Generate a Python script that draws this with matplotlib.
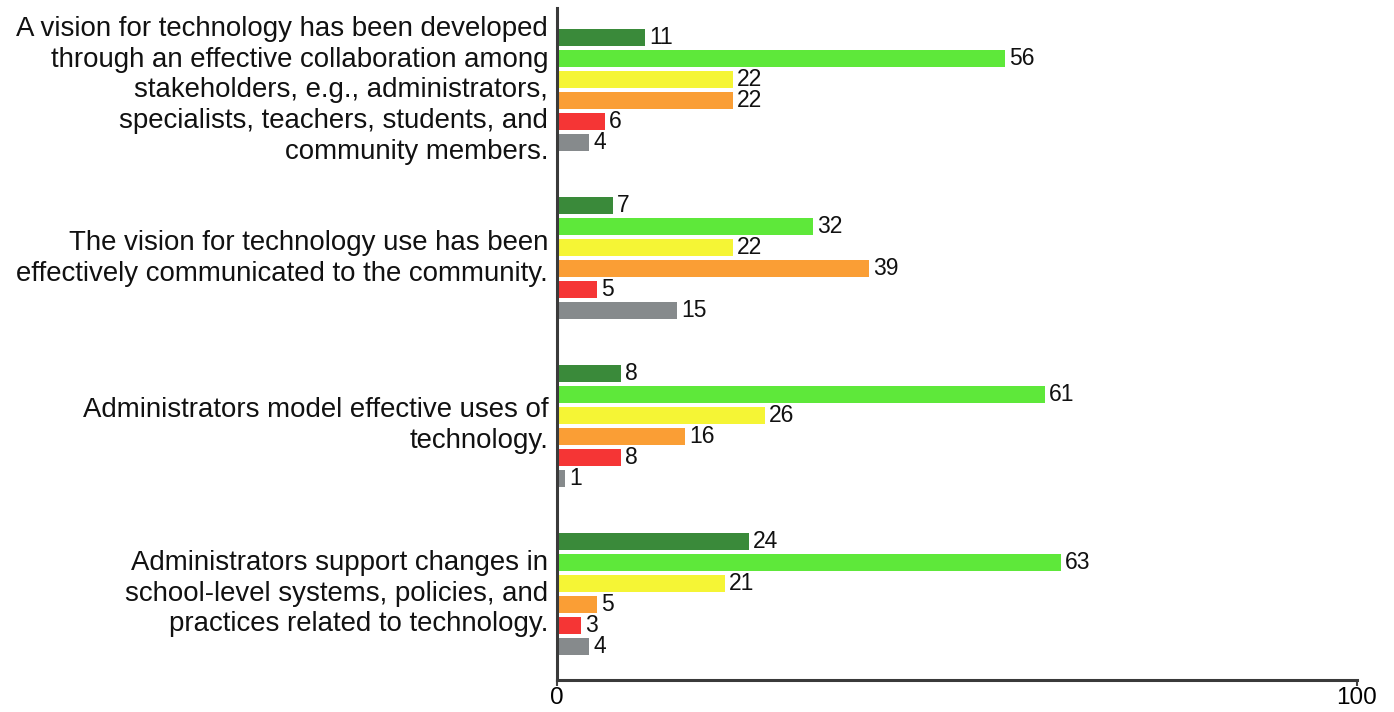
import numpy as np
import matplotlib.pyplot as plt

plt.rcParams['font.family'] = ['Liberation Sans', 'DejaVu Sans']

questions = [
    'A vision for technology has been developed\nthrough an effective collaboration among\nstakeholders, e.g., administrators,\nspecialists, teachers, students, and\ncommunity members.',
    'The vision for technology use has been\neffectively communicated to the community.',
    'Administrators model effective uses of\ntechnology.',
    'Administrators support changes in\nschool-level systems, policies, and\npractices related to technology.',
]
responses = [
    [11, 56, 22, 22, 6, 4],
    [7, 32, 22, 39, 5, 15],
    [8, 61, 26, 16, 8, 1],
    [24, 63, 21, 5, 3, 4],
]
colors = ['#3a8a3a', '#5ee83a', '#f5f535', '#fa9e35', '#f53535', '#868a8c']

fig = plt.figure(figsize=(13.94, 7.12), dpi=100)
ax = fig.add_axes([557 / 1394, 32 / 712, 800 / 1394, 672 / 712])

group_step = 8
for i, vals in enumerate(responses):
    for j, v in enumerate(vals):
        y = i * group_step + j
        ax.barh(y, v, height=0.81, color=colors[j], edgecolor='none')
        ax.text(v + 0.5, y, str(v), va='center', ha='left', fontsize=16.5, color='#111111')
    ax.text(-1.1, i * group_step + 2.5, questions[i], ha='right', va='center',
            fontsize=19.9, linespacing=1.24, color='#111111')

ax.set_xlim(0, 100)
ax.set_ylim(3 * group_step + 5 + 1.62, -1.43)
ax.set_xticks([0, 100])
ax.set_xticklabels(['0', '100'], fontsize=17.5)
ax.set_yticks([])
ax.tick_params(axis='x', length=4, width=1.5, color='#444444', pad=1)
for side in ['top', 'right']:
    ax.spines[side].set_visible(False)
for side in ['left', 'bottom']:
    ax.spines[side].set_linewidth(2.2)
    ax.spines[side].set_color('#3a3a3a')

fig.savefig('out.png', dpi=100)
